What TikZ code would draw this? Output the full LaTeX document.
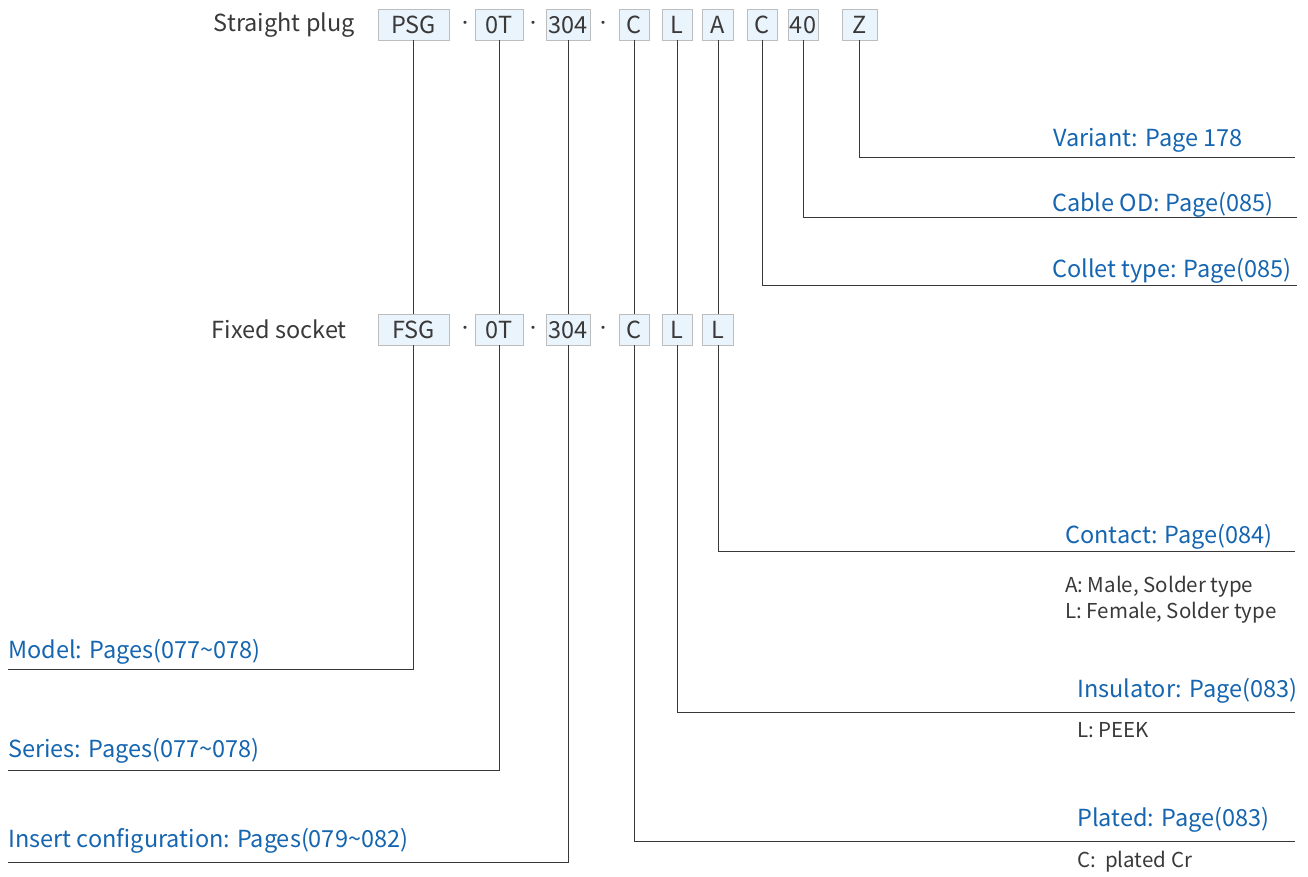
\documentclass[tikz,border=0pt]{standalone}
\usepackage{fontspec}
\setmainfont{Noto Sans CJK SC}
\usepackage{xcolor}
\usetikzlibrary{positioning}
\definecolor{labelblue}{HTML}{1565B0}
\definecolor{boxfill}{HTML}{EAF4FC}
\definecolor{boxline}{HTML}{BDBDBD}
\definecolor{inkgray}{HTML}{3A3838}

\tikzset{
  codebox/.style={draw=boxline,fill=boxfill,text=inkgray,inner sep=0pt,
    minimum height=31pt,text height=17pt,text depth=0pt,
    font=\fontsize{23.5}{24}\selectfont},
  codedot/.style={text=inkgray,inner sep=0pt,font=\fontsize{15}{15}\selectfont},
  rowtitle/.style={anchor=base east,text=inkgray,inner sep=0pt,
    font=\fontsize{23.5}{24}\selectfont},
  pagelabel/.style={anchor=base west,text=labelblue,inner sep=0pt,
    font=\fontsize{23.5}{24}\selectfont},
  notetext/.style={anchor=base west,text=inkgray,inner sep=0pt,
    font=\fontsize{20.5}{21}\selectfont},
  link/.style={draw=inkgray,line width=1pt}
}

\begin{document}
\begin{tikzpicture}[x=1pt,y=-1pt]
  \useasboundingbox (0,0) rectangle (1308,876);

  % straight plug code
  \node[rowtitle] (tPlug) at (355,31) {Straight plug};
  \node[codebox,minimum width=71pt] (pPSG) at (413.5,24.5) {PSG};
  \node[codedot] (pDotA) at (465,24.5) {·};
  \node[codebox,minimum width=48pt] (pOT) at (499,24.5) {0T};
  \node[codedot] (pDotB) at (533,24.5) {·};
  \node[codebox,minimum width=44pt] (pNum) at (568,24.5) {304};
  \node[codedot] (pDotC) at (603,24.5) {·};
  \node[codebox,minimum width=30pt] (pC) at (634,24.5) {C};
  \node[codebox,minimum width=30pt] (pL) at (677,24.5) {L};
  \node[codebox,minimum width=31pt] (pA) at (718,24.5) {A};
  \node[codebox,minimum width=30pt] (pColl) at (762,24.5) {C};
  \node[codebox,minimum width=30pt] (pOD) at (803,24.5) {40};
  \node[codebox,minimum width=35pt] (pZ) at (859.5,24.5) {Z};

  % fixed socket code
  \node[rowtitle] (tSock) at (347,338) {Fixed socket};
  \node[codebox,minimum width=71pt] (fFSG) at (413.5,329.5) {FSG};
  \node[codedot] (fDotA) at (465,329.5) {·};
  \node[codebox,minimum width=48pt] (fOT) at (499,329.5) {0T};
  \node[codedot] (fDotB) at (533,329.5) {·};
  \node[codebox,minimum width=44pt] (fNum) at (568,329.5) {304};
  \node[codedot] (fDotC) at (603,329.5) {·};
  \node[codebox,minimum width=30pt] (fC) at (634,329.5) {C};
  \node[codebox,minimum width=30pt] (fL) at (677,329.5) {L};
  \node[codebox,minimum width=31pt] (fCont) at (718,329.5) {L};

  % line ends
  \coordinate (eVariant) at (1295,157);
  \coordinate (eCable) at (1297,217);
  \coordinate (eCollet) at (1297,285);
  \coordinate (eContact) at (1295,551);
  \coordinate (eInsul) at (1295,712);
  \coordinate (ePlated) at (1295,841);
  \coordinate (eModel) at (8,669);
  \coordinate (eSeries) at (8,770);
  \coordinate (eInsert) at (8,862);

  % labels
  \node[pagelabel] (lVariant) at (1053,146) {Variant: Page 178};
  \node[pagelabel] (lCable) at (1052,211) {Cable OD: Page(085)};
  \node[pagelabel] (lCollet) at (1052,277) {Collet type: Page(085)};
  \node[pagelabel] (lContact) at (1065,543) {Contact: Page(084)};
  \node[notetext] (nMale) at (1065,592) {A: Male, Solder type};
  \node[notetext] (nFemale) at (1065,618) {L: Female, Solder type};
  \node[pagelabel] (lInsul) at (1077,697) {Insulator: Page(083)};
  \node[notetext] (nPeek) at (1077,737) {L: PEEK};
  \node[pagelabel] (lPlated) at (1077,826) {Plated: Page(083)};
  \node[notetext] (nCr) at (1077,867) {C:\ \ plated Cr};
  \node[pagelabel] (lModel) at (8,658) {Model: Pages(077\textasciitilde078)};
  \node[pagelabel] (lSeries) at (8,757) {Series: Pages(077\textasciitilde078)};
  \node[pagelabel] (lInsert) at (8,847) {Insert configuration: Pages(079\textasciitilde082)};

  % connectors
  \draw[link] (pZ.south) |- (eVariant);
  \draw[link] (pOD.south) |- (eCable);
  \draw[link] (pColl.south) |- (eCollet);
  \draw[link] (pA.south) -- (fCont.north);
  \draw[link] (fCont.south) |- (eContact);
  \draw[link] (pL.south) -- (fL.north);
  \draw[link] (fL.south) |- (eInsul);
  \draw[link] (pC.south) -- (fC.north);
  \draw[link] (fC.south) |- (ePlated);
  \draw[link] (pPSG.south) -- (fFSG.north);
  \draw[link] (fFSG.south) |- (eModel);
  \draw[link] (pOT.south) -- (fOT.north);
  \draw[link] (fOT.south) |- (eSeries);
  \draw[link] (pNum.south) -- (fNum.north);
  \draw[link] (fNum.south) |- (eInsert);
\end{tikzpicture}
\end{document}
